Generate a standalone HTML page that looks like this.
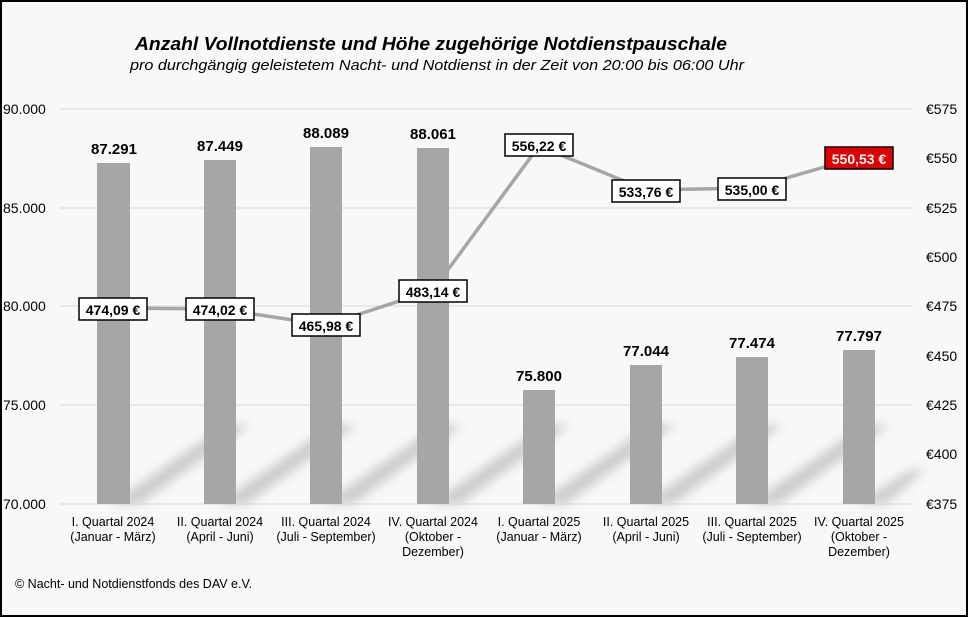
<!DOCTYPE html>
<html><head><meta charset="utf-8"><style>
body{margin:0;background:#fff}
svg{display:block}
text{font-family:"Liberation Sans",Arial,sans-serif}
</style></head><body>
<svg width="968" height="617" viewBox="0 0 968 617">
<defs><filter id="b" x="-50%" y="-50%" width="200%" height="200%"><feGaussianBlur stdDeviation="5"/></filter></defs>
<rect x="1" y="1" width="966" height="615" fill="#f8f8f8" stroke="#000" stroke-width="2"/>
<text x="431" y="50" text-anchor="middle" font-size="18.5" font-weight="bold" font-style="italic" fill="#000" textLength="592" lengthAdjust="spacingAndGlyphs">Anzahl Vollnotdienste  und Höhe zugehörige Notdienstpauschale</text>
<text x="437" y="70" text-anchor="middle" font-size="15" font-style="italic" fill="#000" textLength="614" lengthAdjust="spacingAndGlyphs">pro durchgängig geleistetem Nacht- und Notdienst in der Zeit von 20:00 bis 06:00 Uhr</text>
<g stroke="#d9d9d9" stroke-width="1">
<line x1="60" y1="109" x2="912" y2="109"/><line x1="60" y1="208" x2="912" y2="208"/><line x1="60" y1="306" x2="912" y2="306"/><line x1="60" y1="405" x2="912" y2="405"/><line x1="60" y1="504" x2="912" y2="504"/>
</g>
<g font-size="14" fill="#000">
<text x="3" y="114">90.000</text><text x="3" y="213">85.000</text><text x="3" y="311">80.000</text><text x="3" y="410">75.000</text><text x="3" y="509">70.000</text>
<text x="926" y="114">€575</text><text x="926" y="163">€550</text><text x="926" y="213">€525</text><text x="926" y="262">€500</text><text x="926" y="311">€475</text><text x="926" y="361">€450</text><text x="926" y="410">€425</text><text x="926" y="459">€400</text><text x="926" y="509">€375</text>
</g>
<g fill="#c8c8c8" filter="url(#b)" opacity="0.9">
<polygon points="110,504 140,504 250,425 225,425"/>
<polygon points="217,504 247,504 357,425 332,425"/>
<polygon points="323,504 353,504 463,425 438,425"/>
<polygon points="430,504 460,504 570,425 545,425"/>
<polygon points="536,504 566,504 676,425 651,425"/>
<polygon points="643,504 673,504 783,425 758,425"/>
<polygon points="749,504 779,504 889,425 864,425"/>
<polygon points="856,504 886,504 925,470 910,470"/>
</g>
<g fill="#a6a6a6">
<rect x="97" y="163" width="33" height="341"/>
<rect x="204" y="160" width="32" height="344"/>
<rect x="310" y="147" width="32" height="357"/>
<rect x="417" y="148" width="32" height="356"/>
<rect x="523" y="390" width="32" height="114"/>
<rect x="630" y="365" width="32" height="139"/>
<rect x="736" y="357" width="32" height="147"/>
<rect x="843" y="350" width="32" height="154"/>
</g>
<g font-size="15" font-weight="bold" text-anchor="middle" fill="#000">
<text x="114" y="154">87.291</text><text x="220" y="151">87.449</text><text x="326" y="138">88.089</text><text x="433" y="139">88.061</text>
<text x="539" y="381">75.800</text><text x="646" y="356">77.044</text><text x="752" y="348">77.474</text><text x="859" y="341">77.797</text>
</g>
<polyline points="113,308 220,309 326,325 433,290 539,146 646,190 752,188 859,157" fill="none" stroke="#a6a6a6" stroke-width="3.5"/>
<g font-size="14" font-weight="bold" text-anchor="middle">
<rect x="79" y="298" width="68" height="22" fill="#fff" stroke="#000" stroke-width="1.5"/><text x="113" y="315">474,09 €</text>
<rect x="186" y="298" width="68" height="22" fill="#fff" stroke="#000" stroke-width="1.5"/><text x="220" y="315">474,02 €</text>
<rect x="292" y="314" width="68" height="22" fill="#fff" stroke="#000" stroke-width="1.5"/><text x="326" y="331">465,98 €</text>
<rect x="399" y="280" width="68" height="22" fill="#fff" stroke="#000" stroke-width="1.5"/><text x="433" y="297">483,14 €</text>
<rect x="505" y="134" width="68" height="22" fill="#fff" stroke="#000" stroke-width="1.5"/><text x="539" y="151">556,22 €</text>
<rect x="612" y="180" width="68" height="22" fill="#fff" stroke="#000" stroke-width="1.5"/><text x="646" y="197">533,76 €</text>
<rect x="718" y="178" width="68" height="22" fill="#fff" stroke="#000" stroke-width="1.5"/><text x="752" y="195">535,00 €</text>
<rect x="825" y="147" width="68" height="22" fill="#e00000" stroke="#000" stroke-width="1.5"/><text x="859" y="164" fill="#fff">550,53 €</text>
</g>
<g font-size="12.5" text-anchor="middle" fill="#000">
<text x="113" y="526">I. Quartal 2024</text><text x="113" y="541">(Januar - März)</text>
<text x="220" y="526">II. Quartal 2024</text><text x="220" y="541">(April - Juni)</text>
<text x="326" y="526">III. Quartal 2024</text><text x="326" y="541">(Juli - September)</text>
<text x="433" y="526">IV. Quartal 2024</text><text x="433" y="541">(Oktober -</text><text x="433" y="556">Dezember)</text>
<text x="539" y="526">I. Quartal 2025</text><text x="539" y="541">(Januar - März)</text>
<text x="646" y="526">II. Quartal 2025</text><text x="646" y="541">(April - Juni)</text>
<text x="752" y="526">III. Quartal 2025</text><text x="752" y="541">(Juli - September)</text>
<text x="859" y="526">IV. Quartal 2025</text><text x="859" y="541">(Oktober -</text><text x="859" y="556">Dezember)</text>
</g>
<text x="15" y="588" font-size="12.5" fill="#000">© Nacht- und Notdienstfonds  des DAV e.V.</text>
</svg>
</body></html>
